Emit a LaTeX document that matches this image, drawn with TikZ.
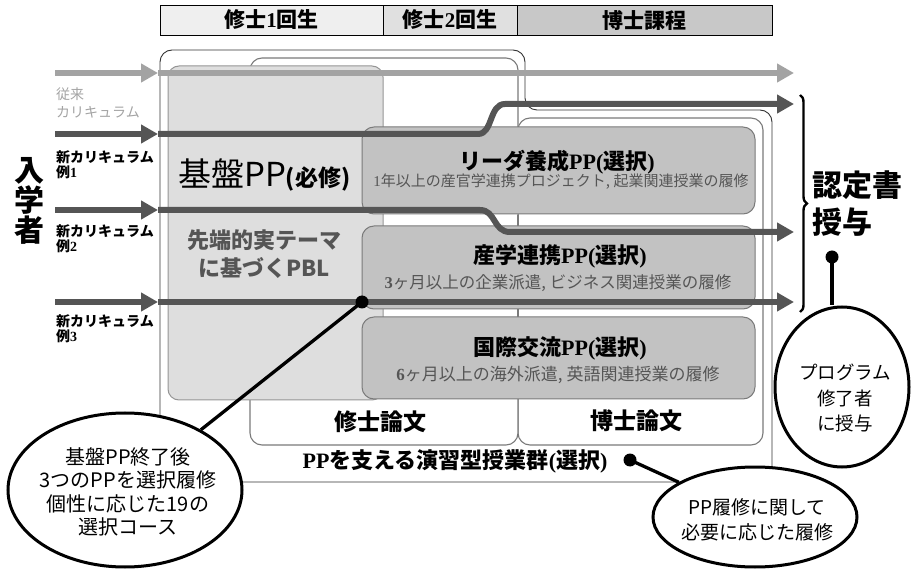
\documentclass[tikz,border=0pt]{standalone}
\usepackage{fontspec}
\setmainfont{Noto Sans CJK JP}
\newfontfamily\serf{Liberation Serif}
\usetikzlibrary{arrows.meta,shapes.geometric,decorations.pathreplacing}
\newcommand{\fsz}[2]{\fontsize{#1}{#2}\selectfont}
\definecolor{arrdark}{HTML}{555555}
\definecolor{arrlight}{HTML}{A3A3A3}
\definecolor{hdrA}{HTML}{EFEFEF}
\definecolor{hdrB}{HTML}{E0E0E0}
\definecolor{hdrC}{HTML}{C8C8C8}
\definecolor{baseFill}{HTML}{DEDEDE}
\definecolor{ppFill}{HTML}{C2C2C2}
\definecolor{boxLine}{HTML}{7A7A7A}
\definecolor{subText}{HTML}{555555}
\begin{document}
\begin{tikzpicture}[x=1pt,y=-1pt,
  hdr/.style={draw=black, line width=0.8pt, minimum height=30pt, inner sep=0pt, font=\bfseries\fsz{21}{24}},
  outerbox/.style={draw=black!80, line width=0.9pt, rounded corners=12pt},
  thesis/.style={draw=boxLine, fill=white, line width=1.1pt, rounded corners=12pt},
  basebox/.style={draw=boxLine!80, fill=baseFill, line width=1pt, rounded corners=11pt},
  ppbox/.style={draw=boxLine, fill=ppFill, line width=1pt, rounded corners=12pt},
  arr/.style={line width=6pt, draw=#1, -{Triangle[length=17pt,width=18pt]}},
  ptitle/.style={font=\bfseries\fsz{22}{24}, inner sep=0pt},
  psub/.style={text=subText, inner sep=0pt},
  lbl/.style={align=left, anchor=north west, inner sep=0pt},
  callout/.style={draw=black, fill=white, line width=3pt, ellipse, inner sep=0pt},
  cline/.style={draw=black, line width=3.3pt},
]
\useasboundingbox (0,0) rectangle (911,569);

% header
\node[hdr, fill=hdrA, minimum width=223pt] (h1) at (271.5,20) {修士{\serf 1}回生};
\node[hdr, fill=hdrB, minimum width=134pt] (h2) at (450,20) {修士{\serf 2}回生};
\node[hdr, fill=hdrC, minimum width=255pt] (h3) at (644.5,20) {博士課程};

% outer box
\draw[outerbox] (160,300) -- (160,50) -- (525,50) -- (525,110) -- (772,110) -- (772,482) -- (160,482) -- cycle;

% thesis boxes
\draw[thesis] (518,118) rectangle (763,445);
\draw[thesis] (250,58) rectangle (518,445);
\draw[boxLine, line width=1.1pt] (518,215) -- (518,226) (518,309) -- (518,317);

% base box
\draw[basebox] (168,66) rectangle (383,400);

% PP boxes
\draw[ppbox] (362,127) rectangle (755,214);
\draw[ppbox] (362,226) rectangle (755,309);
\draw[ppbox] (362,317) rectangle (755,399);

% texts in boxes
\node[anchor=base west, inner sep=0pt] (kiban) at (178,187) {\fsz{33}{36}基盤PP\bfseries\fsz{23}{24}(必修)};
\node[align=center, text=subText, font=\bfseries\fsz{22}{28}, inner sep=0pt] (pbl) at (264,254) {先端的実テーマ\\に基づくPBL};

\node[ptitle] (t1) at (557,162) {リーダ養成{\serf PP(}選択{\serf )}};
\node[psub, font=\fsz{15}{17}] (s1) at (561,182) {{\serf 1}年以上の産官学連携プロジェクト, 起業関連授業の履修};
\node[ptitle] (t2) at (560,256) {産学連携{\serf PP(}選択{\serf )}};
\node[psub, font=\fsz{16.5}{18}] (s2) at (558,283) {{\serf\bfseries 3}ヶ月以上の企業派遣, ビジネス関連授業の履修};
\node[ptitle] (t3) at (560,348) {国際交流{\serf PP(}選択{\serf )}};
\node[psub, font=\fsz{17}{18}] (s3) at (558,375) {{\serf\bfseries 6}ヶ月以上の海外派遣, 英語関連授業の履修};

\node[font=\bfseries\fsz{23}{24}, inner sep=0pt] (msth) at (380,422) {修士論文};
\node[font=\bfseries\fsz{23}{24}, inner sep=0pt] (phdth) at (636,421) {博士論文};
\node[font=\bfseries\fsz{22}{24}, inner sep=0pt] (supp) at (455,461) {{\serf PP}を支える演習型授業群{\serf (}選択{\serf )}};

% left labels
\node[font=\bfseries\fsz{30}{30}, align=center, inner sep=0pt] (nyu) at (29,201) {入\\学\\者};
\node[lbl, text=arrlight, font=\fsz{14}{18}] (lb0) at (56,88) {従来\\カリキュラム};
\node[lbl, font=\bfseries\fsz{14}{15.5}] (lb1) at (56,150) {新カリキュラム\\例{\serf 1}};
\node[lbl, font=\bfseries\fsz{14}{15.5}] (lb2) at (56,224) {新カリキュラム\\例{\serf 2}};
\node[lbl, font=\bfseries\fsz{14}{15.5}] (lb3) at (56,314) {新カリキュラム\\例{\serf 3}};

% arrow coordinates
\coordinate (a0s) at (55,73);  \coordinate (a0m) at (158,73);  \coordinate (a0e) at (794,73);
\coordinate (a1s) at (55,134); \coordinate (a1m) at (158,134); \coordinate (a1e) at (794,104);
\coordinate (a2s) at (55,210); \coordinate (a2m) at (158,210); \coordinate (a2e) at (794,232);
\coordinate (a3s) at (55,302); \coordinate (a3m) at (158,302); \coordinate (a3e) at (794,302);

\draw[arr=arrlight] (a0m) -- (a0e);
\draw[arr=arrlight] (a0s) -- (a0m);
\draw[arr=arrdark] (a1m) -- (478,134) .. controls (493,134) and (489,104) .. (505,104) -- (a1e);
\draw[arr=arrdark] (a1s) -- (a1m);
\draw[arr=arrdark] (a2m) -- (480,210) .. controls (496,210) and (493,232) .. (510,232) -- (a2e);
\draw[arr=arrdark] (a2s) -- (a2m);
\draw[arr=arrdark] (a3m) -- (a3e);
\draw[arr=arrdark] (a3s) -- (a3m);

% brace and award text
\draw[decorate, decoration={brace, amplitude=7pt, aspect=0.5}, line width=2.4pt] (800,95) -- (800,312);
\node[anchor=west, align=left, font=\bfseries\fsz{30}{37}, inner sep=0pt] (award) at (812,204) {認定書\\授与};

% callouts
\coordinate (dA) at (362,302);
\coordinate (dB) at (630,460);
\coordinate (dC) at (832,257);

\node[callout, minimum width=234pt, minimum height=154pt] (eA) at (125,490) {};
\node[callout, minimum width=204pt, minimum height=100pt] (eB) at (755,517) {};
\node[callout, minimum width=134pt, minimum height=160pt] (eC) at (842,387) {};

\draw[cline] (dA) -- (eA);
\draw[cline] (dB) -- (eB);
\draw[cline] (dC) -- (dC |- eC.north);
\fill (dA) circle (6.5);
\fill (dB) circle (6.5);
\fill (dC) circle (6.5);

\node[align=center, font=\fsz{20}{23.3}, inner sep=0pt] (tA) at (128,492) {基盤PP終了後\\3つのPPを選択履修\\個性に応じた19の\\選択コース};
\node[align=center, font=\fsz{19}{25}, inner sep=0pt] (tB) at (757,520) {PP履修に関して\\必要に応じた履修};
\node[align=center, font=\fsz{18.5}{25.5}, inner sep=0pt] (tC) at (845,398) {プログラム\\修了者\\に授与};
\end{tikzpicture}
\end{document}
